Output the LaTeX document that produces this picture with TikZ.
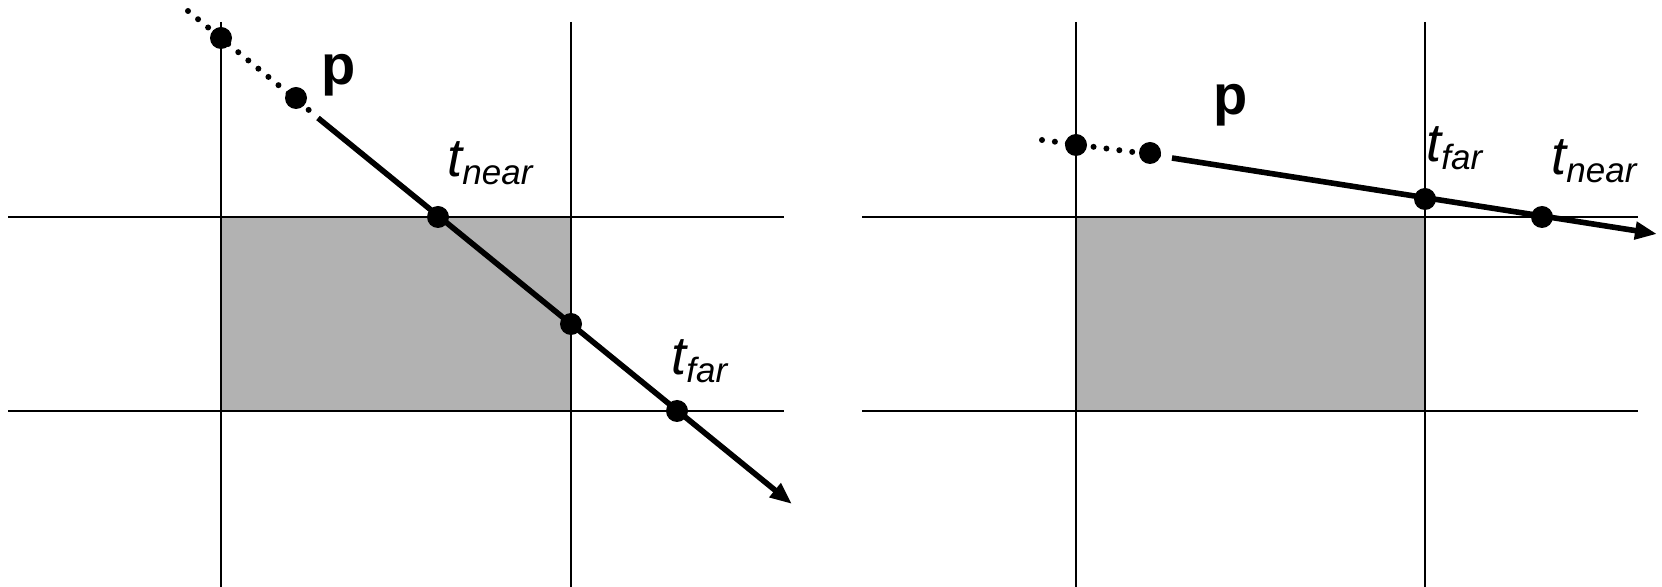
\documentclass[tikz,border=0pt]{standalone}
\usepackage{fontspec}
\setmainfont{Liberation Sans}
\usetikzlibrary{arrows.meta}

\tikzset{
  gridline/.style={line width=1pt},
  cell/.style={fill=black!30},
  hit/.style={circle, fill=black, inner sep=0pt, minimum size=11pt},
  ray/.style={line width=2.8pt, -{Triangle[length=11pt, width=8.5pt]}},
  raydots/.style={line width=3pt, line cap=round, dash pattern=on 0pt off 6.5pt},
  tlabel/.style={anchor=base west, inner sep=0pt, font=\fontsize{27}{30}\selectfont\itshape},
  plabel/.style={anchor=base west, inner sep=0pt, font=\fontsize{28}{30}\selectfont\bfseries}
}
\newcommand{\tsub}[1]{t\raisebox{-4pt}{\fontsize{17.5}{20}\selectfont #1}}

\begin{document}
\begin{tikzpicture}[x=0.5pt, y=-0.5pt] % pixel-like units, y downwards
    \useasboundingbox (0,0) rectangle (1662,587);

    % 1. Left panel: cell and grid
    \fill[cell] (221,217) rectangle (571,411);
    \draw[gridline] (221,22) -- (221,587);
    \draw[gridline] (571,22) -- (571,587);
    \draw[gridline] (8,217) -- (784,217);
    \draw[gridline] (8,411) -- (784,411);

    % 2. Left ray (enters the cell)
    \coordinate (s1) at (188,11);
    \coordinate (d1) at (310,111);
    \coordinate (r1) at (318,118);
    \coordinate (e1) at (792,504);
    \draw[raydots] (s1) -- (d1);
    \draw[ray] (r1) -- (e1);
    \node[hit] (a1) at (221,38) {};
    \node[hit] (p1) at (296,98) {};
    \node[hit] (n1) at (438,217) {};
    \node[hit] (c1) at (571,324) {};
    \node[hit] (f1) at (677,411) {};
    \node[plabel] (lp1) at (321,85) {p};
    \node[tlabel] (ln1) at (447,177) {\tsub{near}};
    \node[tlabel] (lf1) at (671,375) {\tsub{far}};

    % 3. Right panel: cell and grid
    \fill[cell] (1076,217) rectangle (1425,411);
    \draw[gridline] (1076,22) -- (1076,587);
    \draw[gridline] (1425,22) -- (1425,587);
    \draw[gridline] (862,217) -- (1638,217);
    \draw[gridline] (862,411) -- (1638,411);

    % 4. Right ray (misses the cell)
    \coordinate (s2) at (1042,140);
    \coordinate (d2) at (1163,156);
    \coordinate (r2) at (1172,158);
    \coordinate (e2) at (1657,234);
    \draw[raydots] (s2) -- (d2);
    \draw[ray] (r2) -- (e2);
    \node[hit] (a2) at (1076,145) {};
    \node[hit] (p2) at (1150,153) {};
    \node[hit] (f2) at (1425,199) {};
    \node[hit] (n2) at (1542,217) {};
    \node[plabel] (lp2) at (1213,115) {p};
    \node[tlabel] (lf2) at (1426,162) {\tsub{far}};
    \node[tlabel] (ln2) at (1551,175) {\tsub{near}};
\end{tikzpicture}
\end{document}
